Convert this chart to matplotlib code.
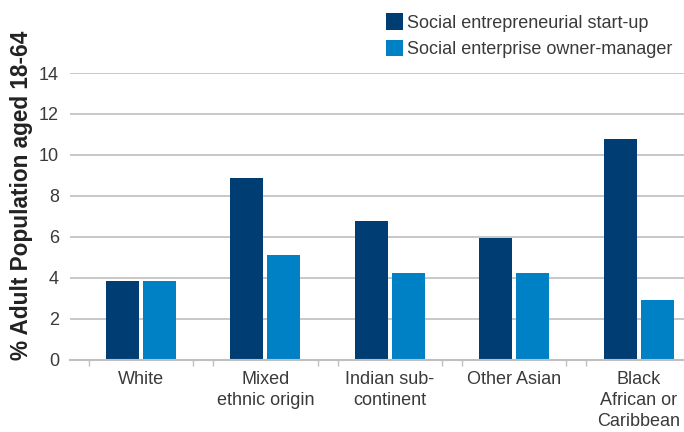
import numpy as np
import matplotlib
matplotlib.use('AGG')
import matplotlib.pyplot as plt
from matplotlib.patches import Patch

# 値は画像から読み取り
categories = ['White', 'Mixed\nethnic origin', 'Indian sub-\ncontinent',
              'Other Asian', 'Black\nAfrican or\nCaribbean']
startup = [3.85, 8.86, 6.77, 5.94, 10.77]
owner_manager = [3.85, 5.11, 4.23, 4.23, 2.91]
series_names = ['Social entrepreneurial start-up',
                'Social enterprise owner-manager']
yticks = [0, 2, 4, 6, 8, 10, 12, 14]

dark = '#003d73'
light = '#0081c6'
grid_c = '#bfbfbf'
txt_c = '#3a3a3a'
fs = 13

plt.rcParams['font.family'] = ['Liberation Sans', 'DejaVu Sans']

fig = plt.figure(figsize=(6.84, 4.32), dpi=100)
ax = fig.add_axes([70 / 684, 72.3 / 432, 614 / 684, 286.7 / 432])

x = np.arange(len(categories))
w = 0.265
ax.bar(x - 0.149, startup, width=w, color=dark, zorder=3)
ax.bar(x + 0.149, owner_manager, width=w, color=light, zorder=3)

ax.set_yticks(yticks)
ax.yaxis.grid(True, color=grid_c, linewidth=1.2, zorder=0)
ax.tick_params(axis='y', length=0, pad=8, labelsize=fs, labelcolor=txt_c)

ax.set_xticks(x)
ax.set_xticklabels(categories, fontsize=fs, color=txt_c, linespacing=1.3)
ax.tick_params(axis='x', which='major', length=0, pad=8)
bounds = np.arange(-0.5, 4.6, 1.0)
ax.set_xticks(np.concatenate([bounds - 0.08, bounds + 0.08]), minor=True)
ax.tick_params(axis='x', which='minor', length=4, width=1.0, color=grid_c)

# set_xticksで範囲が広がるので最後に指定
ax.set_xlim(-0.571, 4.365)
ax.set_ylim(0, 14)

for s in ['top', 'right', 'left']:
    ax.spines[s].set_visible(False)
ax.spines['bottom'].set_color(grid_c)
ax.spines['bottom'].set_linewidth(1.5)
ax.spines['bottom'].set_zorder(4)

fig.text(0.031, 1 - 195 / 432, '% Adult Population aged 18-64',
         rotation=90, ha='center', va='center', fontsize=16.3,
         fontweight='bold', color='#222222')

handles = [Patch(facecolor=dark), Patch(facecolor=light)]
fig.legend(handles, series_names, loc='upper left',
           bbox_to_anchor=(386 / 684, 1 - 13 / 432), frameon=False,
           fontsize=fs, handlelength=0.95, handleheight=1.05,
           handletextpad=0.2, labelspacing=0.45, borderpad=0,
           borderaxespad=0, labelcolor=txt_c)

plt.savefig('out.png', dpi=100)
plt.close('all')
